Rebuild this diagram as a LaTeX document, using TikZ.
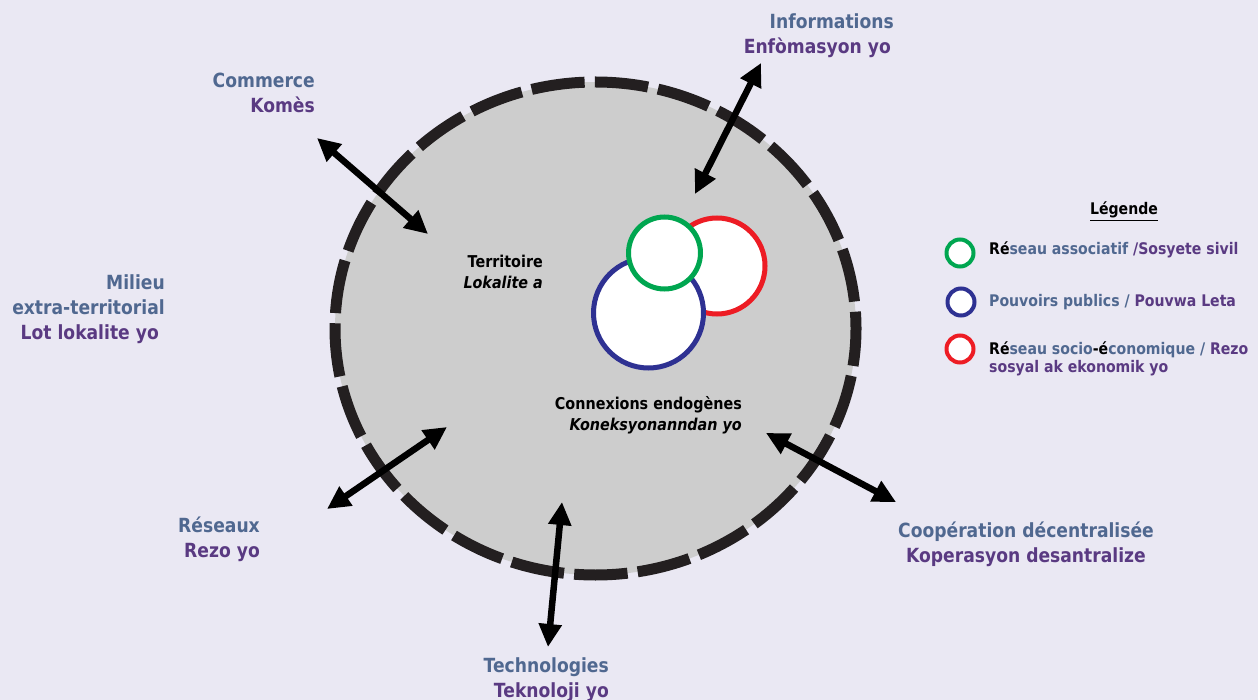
\documentclass[tikz,border=0pt]{standalone}
\usepackage{fontspec}
\setmainfont[FakeStretch=0.88]{DejaVu Sans}
\usetikzlibrary{arrows.meta}
\definecolor{bgc}{HTML}{EAE8F3}
\definecolor{terr}{HTML}{CDCDCD}
\definecolor{dashc}{HTML}{231F20}
\definecolor{labblue}{HTML}{506890}
\definecolor{labpurple}{HTML}{5A3A82}
\definecolor{cgreen}{HTML}{00A650}
\definecolor{cred}{HTML}{ED1C24}
\definecolor{cblue}{HTML}{2E3192}
\tikzset{
  biarrow/.style={line width=6.5pt, draw=black,
    {Triangle[length=23pt,width=22pt]}-{Triangle[length=23pt,width=22pt]}},
  outlabel/.style={inner sep=0pt, font=\fontsize{19.5}{25}\selectfont\bfseries},
  inlabel/.style={inner sep=0pt, align=right, anchor=base east, font=\fontsize{16.3}{21}\selectfont\bfseries},
  legtext/.style={inner sep=0pt, anchor=base west, align=left, font=\fontsize{16}{18}\selectfont\bfseries},
  legcircle/.style={circle, draw, line width=4pt, fill=white, minimum size=27pt, inner sep=0pt},
  bigcircle/.style={circle, draw, line width=5pt, fill=white, inner sep=0pt}
}
\begin{document}
\begin{tikzpicture}[x=1pt,y=-1pt]
\useasboundingbox (0,0) rectangle (1258,700);
\fill[bgc] (0,0) rectangle (1258,700);

% territory
\fill[terr] (595.5,328.5) ellipse [x radius=260.5, y radius=246.5];
\draw[dashc, line width=11pt, dash pattern=on 53.5pt off 10.2pt, dash phase=16pt]
  (595.5,328.5) ellipse [x radius=260.5, y radius=246.5];

% inner circles
\node[bigcircle, draw=cred, minimum size=96pt] (red) at (717,266) {};
\node[bigcircle, draw=cblue, minimum size=110pt] (blue) at (648.5,313) {};
\node[bigcircle, draw=cgreen, minimum size=72pt] (green) at (664.5,253) {};

% inner labels (anchor = baseline of last line)
\node[inlabel] (terrlab) at (543,289) {Territoire\\\itshape Lokalite a};
\node[inlabel] (connlab) at (742,430) {Connexions endogènes\\\itshape Koneksyonanndan yo};

% outer labels (anchor = baseline of last line)
\node[outlabel, align=right, anchor=base east] (commerce) at (315,113)
  {\color{labblue}Commerce\\\color{labpurple}Komès};
\node[outlabel, align=right, anchor=base east] (info) at (894,54)
  {\color{labblue}Informations\\\color{labpurple}Enfòmasyon yo\hspace{3pt}};
\node[outlabel, align=right, anchor=base east] (milieu) at (165,340)
  {\color{labblue}Milieu\\\color{labblue}extra-territorial\\\color{labpurple}Lot lokalite yo\hspace{6pt}};
\node[outlabel, align=right, anchor=base east] (reseaux) at (260,557)
  {\color{labblue}Réseaux\\\color{labpurple}Rezo yo};
\node[outlabel, align=right, anchor=base east] (tech) at (609,697)
  {\color{labblue}Technologies\\\color{labpurple}Teknoloji yo};
\node[outlabel, align=center, anchor=base] (coop) at (1026,562)
  {\color{labblue}Coopération décentralisée\\\color{labpurple}Koperasyon desantralize};

% arrows
\coordinate (comA) at (317,138); \coordinate (comB) at (428,234);
\coordinate (infA) at (761,63);  \coordinate (infB) at (695,194);
\coordinate (coopA) at (766,433); \coordinate (coopB) at (896,502);
\coordinate (resA) at (327,509); \coordinate (resB) at (447,427);
\coordinate (tecA) at (562,502); \coordinate (tecB) at (548,647);
\draw[biarrow] (comA) -- (comB);
\draw[biarrow] (infA) -- (infB);
\draw[biarrow] (coopA) -- (coopB);
\draw[biarrow] (resA) -- (resB);
\draw[biarrow] (tecA) -- (tecB);

% legend
\node[inner sep=0pt, anchor=base, font=\fontsize{16}{18}\selectfont\bfseries] (legtitle) at (1124,215) {\underline{Légende}};
\node[legcircle, draw=cgreen] (lgreen) at (960,253) {};
\node[legcircle, draw=cblue] (lblue) at (961,302) {};
\node[legcircle, draw=cred] (lred) at (960,349) {};
\node[legtext] (ltgreen) at (989,255)
  {\color{black}Ré\color{labblue}seau associatif \color{labpurple}/Sosyete sivil};
\node[legtext] (ltblue) at (989,307)
  {\color{labblue}Pouvoirs publics / \color{labpurple}Pouvwa Leta};
\node[legtext] (ltred) at (989,373)
  {\color{black}Ré\color{labblue}seau socio\color{black}-é\color{labblue}conomique / \color{labpurple}Rezo\\\color{labpurple}sosyal ak ekonomik yo};
\end{tikzpicture}
\end{document}
